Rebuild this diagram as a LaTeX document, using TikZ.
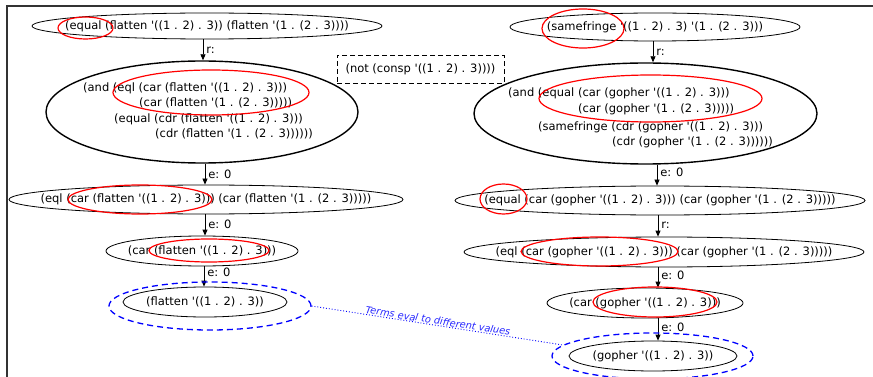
\documentclass[tikz,border=0pt]{standalone}
\usepackage{fontspec}
\newfontfamily\dv{DejaVu Sans}
\usetikzlibrary{arrows.meta,shapes.geometric}

\begin{document}
\begin{tikzpicture}[x=1pt,y=-1pt,
  every node/.style={font=\dv\fontsize{11.5}{13}\selectfont},
  term/.style={ellipse, draw, line width=0.8pt, inner sep=0pt},
  bigterm/.style={ellipse, draw, line width=1.4pt, inner sep=0pt},
  termtext/.style={inner sep=0pt},
  codeline/.style={anchor=west, inner sep=0pt},
  hl/.style={ellipse, draw=red, line width=1.2pt, inner sep=0pt},
  grp/.style={ellipse, draw=blue, line width=1.3pt, dash pattern=on 6pt off 4pt, inner sep=0pt},
  note/.style={rectangle, draw, line width=0.9pt, dash pattern=on 5pt off 3pt, inner sep=0pt},
  flow/.style={-{Triangle[length=6pt,width=5pt]}, line width=0.8pt},
  lbl/.style={right, inner sep=3pt}
]
\useasboundingbox (0,0) rectangle (873,377);

% frame
\draw[line width=1.5pt, black!80] (7,377) -- (7,6) -- (873,6);

% ---------- left derivation: flatten ----------
\node[term, minimum width=350pt, minimum height=26pt] (L1) at (207,26) {};
\node[termtext] (L1t) at (L1) {(equal (flatten '((1 . 2) . 3)) (flatten '(1 . (2 . 3))))};
\node[bigterm, minimum width=312pt, minimum height=102pt] (L2) at (202,112) {};
\node[codeline] (L2a) at (83,88)  {(and (eql (car (flatten '((1 . 2) . 3)))};
\node[codeline] (L2b) at (139,103) {(car (flatten '(1 . (2 . 3)))))};
\node[codeline] (L2c) at (114,119) {(equal (cdr (flatten '((1 . 2) . 3)))};
\node[codeline] (L2d) at (155,134) {(cdr (flatten '(1 . (2 . 3))))))};
\node[term, minimum width=394pt, minimum height=29pt] (L3) at (206,199.5) {};
\node[termtext] (L3t) at (L3) {(eql (car (flatten '((1 . 2) . 3))) (car (flatten '(1 . (2 . 3)))))};
\node[term, minimum width=192pt, minimum height=30pt] (L4) at (202,251) {};
\node[termtext] (L4t) at (L4) {(car (flatten '((1 . 2) . 3)))};
\node[term, minimum width=164pt, minimum height=30pt] (L5) at (205,302) {};
\node[termtext] (L5t) at (L5) {(flatten '((1 . 2) . 3))};

\draw[flow] ([xshift=-4pt]L1.south) -- ([xshift=1pt]L2.north) node[lbl, midway] {r:};
\draw[flow] ([xshift=3pt]L2.south) -- ([xshift=-1pt]L3.north) node[lbl, midway] {e: 0};
\draw[flow] ([xshift=-1pt]L3.south) -- ([xshift=3pt]L4.north) node[lbl, pos=0.45] {e: 0};
\draw[flow] ([xshift=2pt]L4.south) -- ([xshift=-1pt]L5.north) node[lbl, pos=0.3] {e: 0};

% ---------- right derivation: gopher ----------
\node[term, minimum width=290pt, minimum height=28pt] (R1) at (655,27) {};
\node[termtext] (R1t) at (R1) {(samefringe '((1 . 2) . 3) '(1 . (2 . 3)))};
\node[bigterm, minimum width=343pt, minimum height=101pt] (R2) at (645.5,113.5) {};
\node[codeline] (R2a) at (508,93)  {(and (equal (car (gopher '((1 . 2) . 3)))};
\node[codeline] (R2b) at (578,109) {(car (gopher '(1 . (2 . 3)))))};
\node[codeline] (R2c) at (538,127) {(samefringe (cdr (gopher '((1 . 2) . 3)))};
\node[codeline] (R2d) at (612,142) {(cdr (gopher '(1 . (2 . 3))))))};
\node[term, minimum width=410pt, minimum height=29pt] (R3) at (660,200.5) {};
\node[termtext] (R3t) at (R3) {(equal (car (gopher '((1 . 2) . 3))) (car (gopher '(1 . (2 . 3)))))};
\node[term, minimum width=400pt, minimum height=30pt] (R4) at (664,252) {};
\node[termtext] (R4t) at (R4) {(eql (car (gopher '((1 . 2) . 3))) (car (gopher '(1 . (2 . 3)))))};
\node[term, minimum width=196pt, minimum height=30pt] (R5) at (645,303) {};
\node[termtext] (R5t) at (R5) {(car (gopher '((1 . 2) . 3)))};
\node[term, minimum width=168pt, minimum height=30pt] (R6) at (653,356) {};
\node[termtext] (R6t) at (R6) {(gopher '((1 . 2) . 3))};

\draw[flow] ([xshift=-2pt]R1.south) -- ([xshift=7.5pt]R2.north) node[lbl, midway] {r:};
\draw[flow] ([xshift=11.5pt]R2.south) -- ([xshift=-3pt]R3.north) node[lbl, pos=0.35] {e: 0};
\draw[flow] ([xshift=-2pt]R3.south) -- ([xshift=-6pt]R4.north) node[lbl, pos=0.45] {r:};
\draw[flow] ([xshift=-6pt]R4.south) -- ([xshift=13pt]R5.north) node[lbl, pos=0.4] {e: 0};
\draw[flow] ([xshift=13pt]R5.south) -- ([xshift=5pt]R6.north) node[lbl, pos=0.4] {e: 0};

% side condition
\node[note, minimum width=167pt, minimum height=28pt] (cond) at (420.5,69)
  {(not (consp '((1 . 2) . 3))))};

% highlighted subterms
\node[hl, minimum width=55pt, minimum height=22pt] (hL1) at (85.5,28) {};
\node[hl, minimum width=196pt, minimum height=45pt] (hL2) at (211,92.5) {};
\node[hl, minimum width=144pt, minimum height=29pt] (hL3) at (140,199.5) {};
\node[hl, minimum width=120pt, minimum height=23pt] (hL4) at (209,250.5) {};
\node[hl, minimum width=82pt, minimum height=39pt] (hR1) at (583,28.5) {};
\node[hl, minimum width=223pt, minimum height=47pt] (hR2) at (650.5,98.5) {};
\node[hl, minimum width=47pt, minimum height=30pt] (hR3) at (503.5,199) {};
\node[hl, minimum width=157pt, minimum height=29pt] (hR4) at (599.5,251.5) {};
\node[hl, minimum width=124pt, minimum height=30pt] (hR5) at (655,302) {};

% differing results
\node[grp, minimum width=202pt, minimum height=48pt] (gL) at (210,306) {};
\node[grp, minimum width=201pt, minimum height=46pt] (gR) at (652.5,356) {};
\draw[blue, line width=0.9pt, dotted] (gL.east) -- (gR.173)
  node[midway, above, sloped, inner sep=0.5pt, text=blue!85!white,
       font=\dv\itshape\fontsize{9.8}{11}\selectfont] {Terms eval to different values};

\end{tikzpicture}
\end{document}
